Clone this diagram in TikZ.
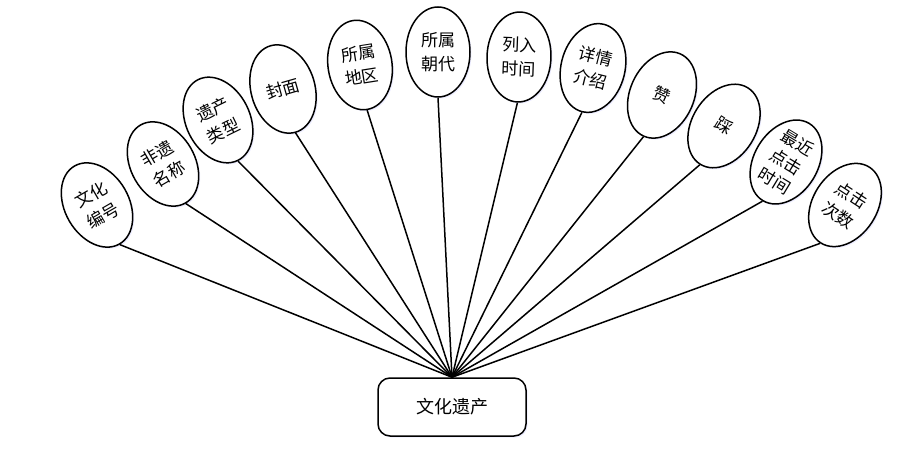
\documentclass[tikz,border=0pt]{standalone}
\usepackage{fontspec}
\newfontfamily\cjk{Noto Sans CJK SC}
\usetikzlibrary{shapes.geometric,shadows}
\tikzset{
  attr/.style={ellipse, draw=black, line width=1.5pt, fill=white,
    minimum width=64pt, minimum height=90pt, inner sep=0pt, align=center,
    font=\cjk\fontsize{17}{24}\selectfont,
    drop shadow={shadow xshift=1.5pt, shadow yshift=-1.5pt, fill=blue!12, opacity=0.6}},
  entity/.style={rectangle, rounded corners=12pt, draw=black, line width=1.5pt, fill=white,
    minimum width=148pt, minimum height=58pt, inner sep=0pt,
    font=\cjk\fontsize{18}{22}\selectfont,
    drop shadow={shadow xshift=1.5pt, shadow yshift=-1.5pt, fill=blue!12, opacity=0.6}},
  link/.style={line width=1.5pt, draw=black}
}
\begin{document}
\begin{tikzpicture}[x=1pt,y=-1pt]
\useasboundingbox (0,0) rectangle (918,454);
\node[entity] (e) at (452,407) {文化遗产};
\coordinate (hub) at (e.north);
\node[attr, rotate=30] (a1) at (97,205) {文化\\编号};
\node[attr, rotate=30] (a2) at (163,164) {非遗\\名称};
\node[attr, rotate=26] (a3) at (218,120) {遗产\\类型};
\node[attr, rotate=16] (a4) at (283,89) {封面};
\node[attr, rotate=9] (a5) at (360,65) {所属\\地区};
\node[attr, rotate=0] (a6) at (438,52) {所属\\朝代};
\node[attr, rotate=-2] (a7) at (519,57) {列入\\时间};
\node[attr, rotate=-14] (a8) at (593,68) {详情\\介绍};
\node[attr, rotate=-24] (a9) at (662,95) {赞};
\node[attr, rotate=-32] (a10) at (724,126) {踩};
\node[attr, rotate=-31, font=\cjk\fontsize{17}{22}\selectfont] (a11) at (786,162) {最近\\点击\\时间};
\node[attr, rotate=-33] (a12) at (845,205) {点击\\次数};
\foreach \i in {1,...,12} {
  \draw[link] (a\i.south) -- (hub);
}
\end{tikzpicture}
\end{document}
